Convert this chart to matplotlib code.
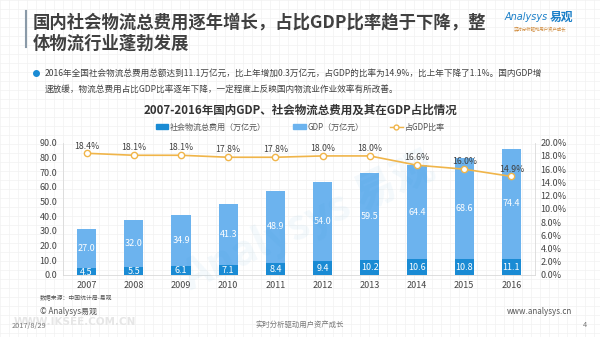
import numpy as np
import matplotlib
matplotlib.use("Agg")
import matplotlib.pyplot as plt
from matplotlib.patches import Patch
from matplotlib.lines import Line2D
from matplotlib.ticker import FormatStrFormatter

plt.rcParams['font.family'] = ['Noto Sans CJK SC', 'DejaVu Sans']

# données
annees = ['2007', '2008', '2009', '2010', '2011', '2012', '2013', '2014', '2015', '2016']
cout_logistique = [4.5, 5.5, 6.1, 7.1, 8.4, 9.4, 10.2, 10.6, 10.8, 11.1]
pib = [27.0, 32.0, 34.9, 41.3, 48.9, 54.0, 59.5, 64.4, 68.6, 74.4]
ratio = [18.4, 18.1, 18.1, 17.8, 17.8, 18.0, 18.0, 16.6, 16.0, 14.9]

bleu_fonce = '#1a8bd4'
bleu_clair = '#6cb3ee'
orange = '#f0b54a'
gris = '#404040'

fig = plt.figure(figsize=(6, 3.37), dpi=100)

# fond quadrillé
fond = fig.add_axes([0, 0, 1, 1], zorder=-10)
fond.set_xlim(0, 600)
fond.set_ylim(337, 0)
for v in np.arange(0, 600, 9):
    fond.axvline(v, color='#f1f1f1', lw=0.5)
for h in np.arange(0, 337, 9):
    fond.axhline(h, color='#f1f1f1', lw=0.5)
fond.axis('off')

# titre
fond.plot([26, 26], [11, 47], color='#8a9aa8', lw=1.5)
fond.text(33, 22, "国内社会物流总费用逐年增长，占比GDP比率趋于下降，整", fontsize=12.5,
          fontweight='bold', color=gris, va='center')
fond.text(33, 44, "体物流行业蓬勃发展", fontsize=12.5, fontweight='bold', color=gris, va='center')

# logo
fond.text(505, 17, "Analysys", fontsize=7, style='italic', color='#1a7fc8', va='center',
          family=['DejaVu Sans'])
fond.text(550, 17, "易观", fontsize=8.5, fontweight='bold', color='#1a7fc8', va='center')
fond.text(540, 29, "实时分析驱动用户资产成长", fontsize=3.2, color='#d08a3a', va='center', ha='center',
          style='italic')

# texte à puces
fond.plot([36], [73], 'o', markersize=4, color=bleu_fonce)
fond.text(45, 73, "2016年全国社会物流总费用总额达到11.1万亿元，比上年增加0.3万亿元，占GDP的比率为14.9%，比上年下降了1.1%。国内GDP增",
          fontsize=6.2, color=gris, va='center')
fond.text(45, 89, "速放缓，物流总费用占比GDP比率逐年下降，一定程度上反映国内物流业作业效率有所改善。",
          fontsize=6.2, color=gris, va='center')

# titre du graphique
fond.text(300, 110, "2007-2016年国内GDP、社会物流总费用及其在GDP占比情况", fontsize=8.3,
          fontweight='bold', color='#333333', ha='center', va='center')

# pied de page
fond.text(40, 297, "数据来源：中国统计局-易观", fontsize=4.2, color='#555555', va='center')
fond.text(40, 311, "© Analysys易观", fontsize=5.8, color='#555555', va='center')
fond.text(572, 311, "www.analysys.cn", fontsize=5.8, color='#555555', va='center', ha='right')
fond.text(14, 322, "WWW.IKSEE.COM.CN", fontsize=7.5, color='#e6e6e6', va='center',
          family=['DejaVu Sans'], fontweight='bold')
fond.text(12, 326, "2017/8/29", fontsize=5.3, color='#777777', va='center')
fond.text(300, 325, "实时分析驱动用户资产成长", fontsize=5.3, color='#777777', va='center', ha='center')
fond.text(583, 325, "4", fontsize=5.3, color='#777777', va='center')

# graphique
ax = fig.add_axes([63/600, 1-275/337, (535-63)/600, (275-142.7)/337])
ax.patch.set_alpha(0)
x = np.arange(len(annees))
l = 0.41
ax.bar(x, cout_logistique, l, color=bleu_fonce, zorder=2)
ax.bar(x, pib, l, bottom=cout_logistique, color=bleu_clair, zorder=2)
for i in range(len(annees)):
    ax.text(x[i], cout_logistique[i]/2 - 0.3, "%.1f" % cout_logistique[i], ha='center', va='center',
            fontsize=6.5, color='white', zorder=3)
    ax.text(x[i], cout_logistique[i] + pib[i]/2, "%.1f" % pib[i], ha='center', va='center',
            fontsize=6.5, color='white', zorder=3)

ax.text(0.52, 0.4, "Analysys 易观", transform=ax.transAxes, fontsize=30, color='#1a8bd4',
        alpha=0.05, rotation=25, ha='center', va='center', fontweight='bold')

ax.set_xlim(-0.5, len(annees) - 0.5)
ax.set_ylim(0, 90)
ax.set_yticks(np.arange(0, 91, 10))
ax.yaxis.set_major_formatter(FormatStrFormatter('%.1f'))
ax.set_xticks(x)
ax.set_xticklabels(annees)
ax.tick_params(length=0, labelsize=6.5, colors='#444444', pad=4)
ax.spines['top'].set_visible(False)
for s in ['left', 'right', 'bottom']:
    ax.spines[s].set_color('#d9d9d9')
    ax.spines[s].set_linewidth(0.6)

ax2 = ax.twinx()
ax2.plot(x, ratio, color=orange, lw=1.2, marker='o', markersize=4.5,
         markerfacecolor='white', markeredgecolor=orange, markeredgewidth=1.0, zorder=4)
for i in range(len(annees)):
    ax2.text(x[i], ratio[i] + 1.1, "%.1f%%" % ratio[i], ha='center', va='center', fontsize=6.3,
             color=gris)
ax2.set_ylim(0, 20)
ax2.set_yticks(np.arange(0, 21, 2))
ax2.yaxis.set_major_formatter(FormatStrFormatter('%.1f%%'))
ax2.tick_params(length=0, labelsize=6.5, colors='#444444', pad=4)
for s in ax2.spines.values():
    s.set_visible(False)

poignees = [Patch(color=bleu_fonce), Patch(color=bleu_clair),
            Line2D([], [], color=orange, marker='o', markerfacecolor='white', markersize=3.5, lw=1)]
fig.legend(poignees, ["社会物流总费用（万亿元）", "GDP（万亿元）", "占GDP比率"], loc='center',
           bbox_to_anchor=(0.5, 1-127/337), ncol=3, frameon=False, fontsize=5.8,
           handlelength=1.6, handleheight=0.55, columnspacing=3.3, labelcolor='#555555',
           handletextpad=0.2)

fig.savefig("out.png", dpi=100)
